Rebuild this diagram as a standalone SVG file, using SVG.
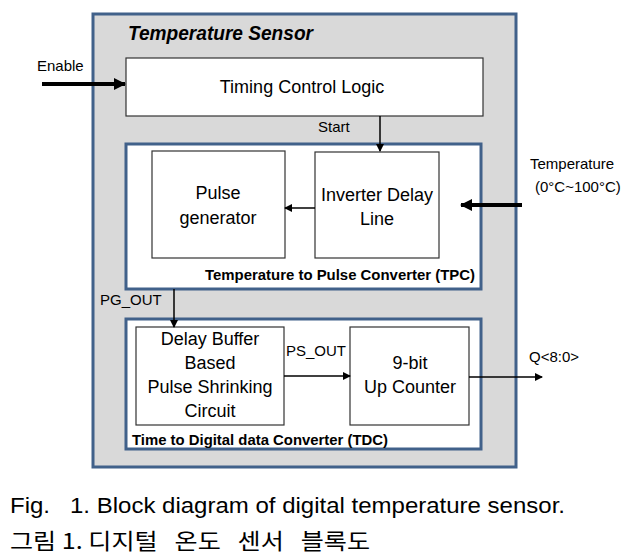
<svg xmlns="http://www.w3.org/2000/svg" width="639" height="558" viewBox="0 0 639 558">
<defs>
<style>
.t{font-family:"Liberation Sans",Arial,sans-serif;fill:#000}
.blk{font-size:18px;text-anchor:middle}
.lbl{font-size:15px}
.sub{font-size:15px;font-weight:bold}
.box{fill:#fff;stroke:#333;stroke-width:1.2}
.grp{fill:#fff;stroke:#41618a;stroke-width:3}
.ln{stroke:#000;stroke-width:1.5;fill:none}
.thk{stroke:#000;stroke-width:4;fill:none}
</style>
<marker id="a" markerWidth="8" markerHeight="8" refX="7" refY="4" orient="auto" markerUnits="userSpaceOnUse"><path d="M0,0 L8,4 L0,8 z" fill="#000"/></marker>
<marker id="b" markerWidth="12" markerHeight="12" refX="11" refY="6" orient="auto" markerUnits="userSpaceOnUse"><path d="M0,0 L12,6 L0,12 z" fill="#000"/></marker>
</defs>
<rect width="639" height="558" fill="#fff"/>
<g id="sensor">
<rect x="93" y="14" width="423" height="453" fill="#d9d9d9" stroke="#41618a" stroke-width="3"/>
<text class="t" x="128" y="40" font-size="20" font-weight="bold" font-style="italic" textLength="185" lengthAdjust="spacingAndGlyphs">Temperature Sensor</text>
</g>
<g id="tcl">
<rect class="box" x="126" y="58" width="357" height="58"/>
<text class="t blk" x="302" y="93">Timing Control Logic</text>
</g>
<g id="tpc">
<rect class="grp" x="126" y="144" width="355" height="145"/>
<text class="t sub" x="205" y="280" textLength="270" lengthAdjust="spacingAndGlyphs">Temperature to Pulse Converter (TPC)</text>
</g>
<g id="pulsegen">
<rect class="box" x="152" y="151" width="133" height="107"/>
<text class="t blk" x="218" y="199">Pulse</text>
<text class="t blk" x="218" y="224">generator</text>
</g>
<g id="idl">
<rect class="box" x="315" y="152" width="124" height="106"/>
<text class="t blk" x="377" y="201">Inverter Delay</text>
<text class="t blk" x="377" y="225">Line</text>
</g>
<g id="tdc">
<rect class="grp" x="126" y="319" width="355" height="130"/>
<text class="t sub" x="132" y="445" textLength="256" lengthAdjust="spacingAndGlyphs">Time to Digital data Converter (TDC)</text>
</g>
<g id="psc">
<rect class="box" x="136" y="327" width="148" height="98"/>
<text class="t blk" x="210" y="345">Delay Buffer</text>
<text class="t blk" x="210" y="369">Based</text>
<text class="t blk" x="210" y="393">Pulse Shrinking</text>
<text class="t blk" x="210" y="417">Circuit</text>
</g>
<g id="counter">
<rect class="box" x="350" y="327" width="119" height="98"/>
<text class="t blk" x="410" y="369">9-bit</text>
<text class="t blk" x="410" y="393">Up Counter</text>
</g>
<g id="connectors">
<line class="thk" x1="42" y1="84" x2="125" y2="84" marker-end="url(#b)"/>
<text class="t lbl" x="37" y="71">Enable</text>
<line class="ln" x1="380" y1="116" x2="380" y2="151" marker-end="url(#a)"/>
<text class="t lbl" x="318" y="132">Start</text>
<line class="ln" x1="315" y1="208" x2="285" y2="208" marker-end="url(#a)"/>
<line class="thk" x1="522" y1="205" x2="461" y2="205" marker-end="url(#b)"/>
<text class="t lbl" x="530" y="169">Temperature</text>
<text class="t lbl" x="535" y="192">(0°C~100°C)</text>
<line class="ln" x1="174" y1="289" x2="174" y2="327" marker-end="url(#a)"/>
<text class="t lbl" x="100" y="305">PG_OUT</text>
<line class="ln" x1="284" y1="376" x2="350" y2="376" marker-end="url(#a)"/>
<text class="t lbl" x="286" y="356">PS_OUT</text>
<line class="ln" x1="469" y1="377" x2="542" y2="377" marker-end="url(#a)"/>
<text class="t lbl" x="529" y="362">Q&lt;8:0&gt;</text>
</g>
<g id="caption">
<text class="t" x="10" y="513" font-size="22" textLength="555" lengthAdjust="spacingAndGlyphs">Fig.&#160;&#160; 1. Block diagram of digital temperature sensor.</text>
<text class="t" x="10" y="549" font-size="22" style="font-family:'Noto Sans CJK KR',sans-serif" textLength="360" lengthAdjust="spacingAndGlyphs">그림 1. 디지털&#160;&#160; 온도&#160;&#160; 센서&#160;&#160; 블록도</text>
</g>
</svg>
